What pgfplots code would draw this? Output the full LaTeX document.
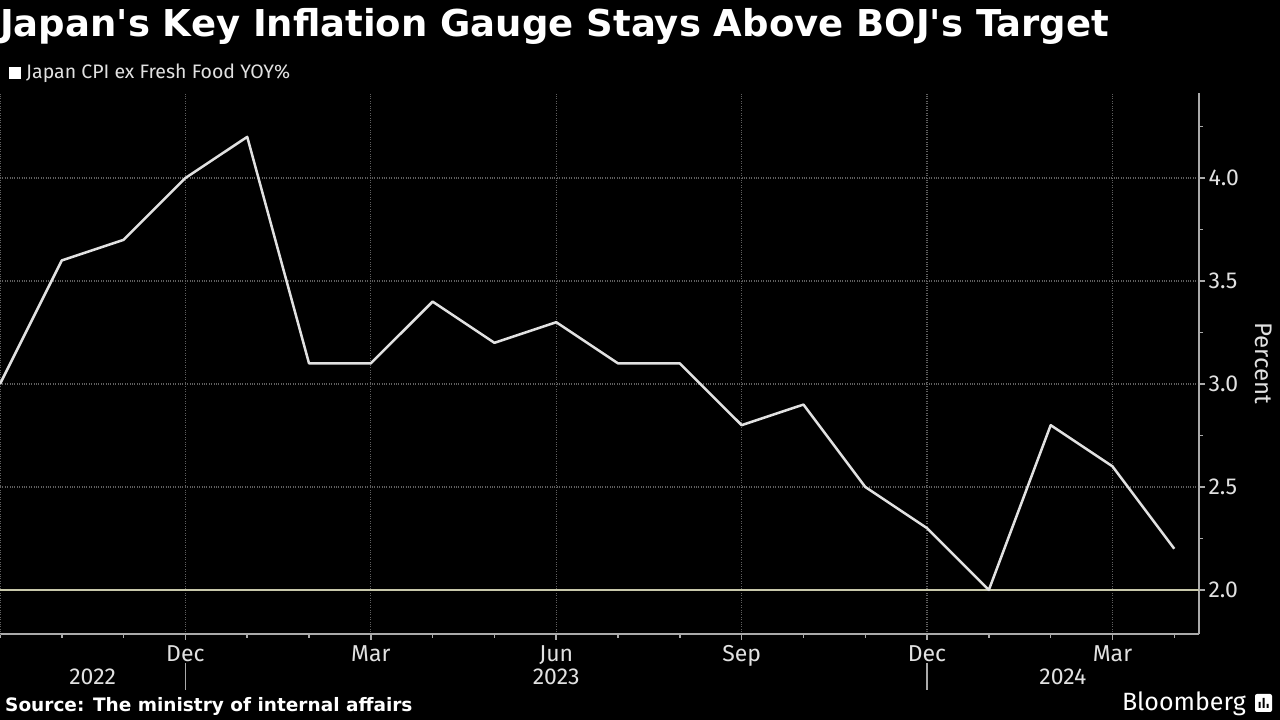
\documentclass[border=0pt]{standalone}
\usepackage{pgfplots}
\pgfplotsset{compat=1.18}
\usepackage{fontspec}
\setmainfont{Fira Sans}
\newfontfamily\djb{DejaVu Sans}
\definecolor{linec}{RGB}{225,225,225}
\definecolor{targc}{RGB}{200,200,170}
\definecolor{gridc}{RGB}{95,95,95}
\definecolor{axc}{RGB}{170,170,170}
\definecolor{txtc}{RGB}{225,225,225}
\begin{document}
\begin{tikzpicture}[x=1pt,y=1pt]
\useasboundingbox (0,0) rectangle (1280,720);
\fill[black] (0,0) rectangle (1280,720);
\node[anchor=west, text=white, inner sep=0, font=\djb\fontsize{37}{40}\selectfont\bfseries] at (0,694) {Japan's Key Inflation Gauge Stays Above BOJ's Target};
\fill[white] (9,641) rectangle (21,653);
\node[anchor=west, text=txtc, inner sep=0, font=\fontsize{19.5}{21}\selectfont] at (26,647) {Japan CPI ex Fresh Food YOY\%};
\node[anchor=west, text=white, inner sep=0, font=\djb\fontsize{18.5}{22}\selectfont\bfseries] at (5,14) {Source: The ministry of internal affairs};
\node[anchor=east, text=white, inner sep=0, font=\fontsize{25}{27}\selectfont] at (1246,16) {Bloomberg};
\fill[white, rounded corners=2pt] (1255,8) rectangle (1272,26);
\fill[black] (1258.5,12) rectangle (1260.5,18) (1262.5,12) rectangle (1264.5,22) (1266.5,12) rectangle (1268.5,16);
\begin{axis}[
  at={(0pt,86pt)}, anchor=south west, scale only axis,
  width=1199pt, height=541pt,
  xmin=0, xmax=19.4, ymin=1.786, ymax=4.413,
  axis x line*=bottom, axis y line*=right,
  axis line style={axc, line width=2pt},
  every tick/.style={axc, line width=1.5pt},
  major tick length=6pt, minor tick length=4pt,
  xtick={3,6,9,12,15,18}, xticklabels={Dec,Mar,Jun,Sep,Dec,Mar},
  minor xtick={0,1,...,19},
  extra x ticks={0}, extra x tick labels={}, extra x tick style={grid=major, major tick length=0pt},
  ytick={2,2.5,3,3.5,4}, minor ytick={2.25,2.75,3.25,3.75,4.25},
  yticklabel style={/pgf/number format/.cd, fixed, fixed zerofill, precision=1, assume math mode=true},
  ticklabel style={text=txtc, font=\fontsize{23}{25}\selectfont},
  xticklabel style={yshift=-2pt},
  tick align=outside,
  grid=major,
  major grid style={gridc, dotted, line width=1.2pt},
  ylabel={Percent}, ylabel shift=9pt, ylabel style={rotate=180, text=txtc, font=\fontsize{24}{26}\selectfont},
  clip=false,
]
\addplot[targc, line width=2pt] coordinates {(0,2) (19.4,2)};
\addplot[linec, line width=2.5pt, line join=round] coordinates {
(0,3.0) (1,3.6) (2,3.7) (3,4.0) (4,4.2) (5,3.1) (6,3.1) (7,3.4) (8,3.2) (9,3.3)
(10,3.1) (11,3.1) (12,2.8) (13,2.9) (14,2.5) (15,2.3) (16,2.0) (17,2.8) (18,2.6) (19,2.2)};
\end{axis}
\begin{scope}[shift={(0,86)}, x=61.8pt]
\node[text=txtc, font=\fontsize{23}{25}\selectfont] at (1.5,-43) {2022};
\node[text=txtc, font=\fontsize{23}{25}\selectfont] at (9,-43) {2023};
\node[text=txtc, font=\fontsize{23}{25}\selectfont] at (17.2,-43) {2024};
\draw[axc, line width=1.2pt] (3,-29) -- (3,-56) (15,-29) -- (15,-56);
\end{scope}
\end{tikzpicture}
\end{document}
